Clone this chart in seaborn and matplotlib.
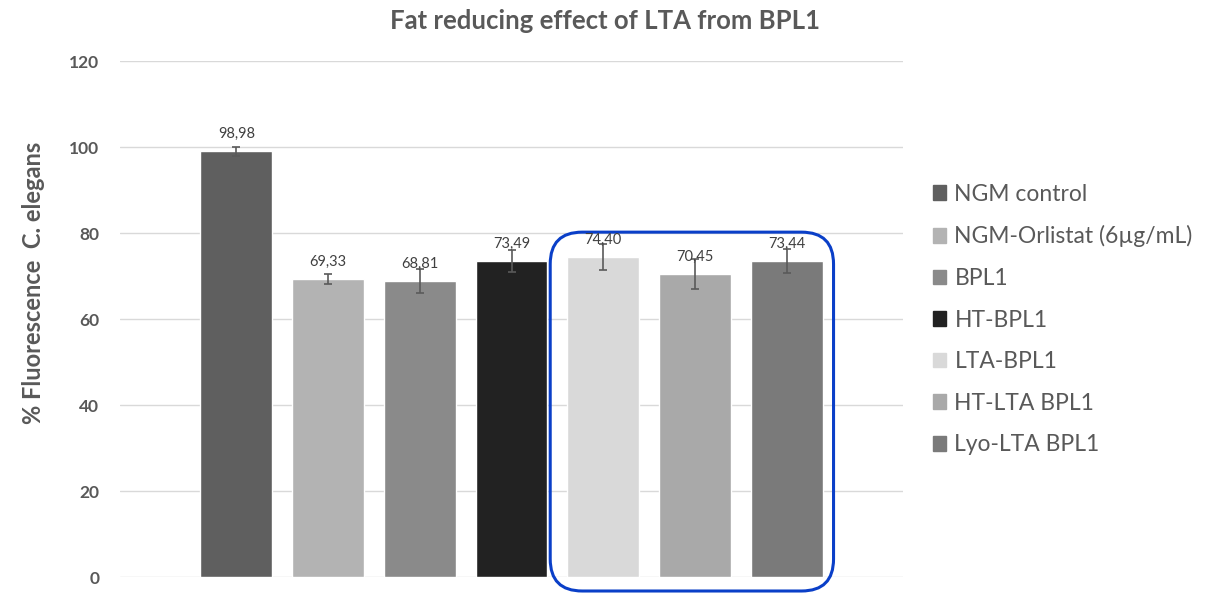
import pandas as pd
import numpy as np
import matplotlib
matplotlib.use('Agg')
import matplotlib.pyplot as plt
from matplotlib.patches import FancyBboxPatch
import seaborn as sns

# Data
groups = ['NGM control', 'NGM-Orlistat (6µg/mL)', 'BPL1', 'HT-BPL1',
          'LTA-BPL1', 'HT-LTA BPL1', 'Lyo-LTA BPL1']
values = [98.98, 69.33, 68.81, 73.49, 74.40, 70.45, 73.44]
errors = [1.1, 1.15, 2.85, 2.55, 3.05, 3.45, 2.8]
value_labels = ['98,98', '69,33', '68,81', '73,49', '74,40', '70,45', '73,44']
colors = ['#5f5f5f', '#b3b3b3', '#8a8a8a', '#222222', '#d9d9d9', '#a9a9a9', '#7a7a7a']
yticks = [0, 20, 40, 60, 80, 100, 120]

df = pd.DataFrame({'cat': ['all'] * len(groups), 'group': groups, 'value': values})

sns.set_theme(style='white')
plt.rcParams['font.family'] = ['Lato', 'DejaVu Sans']
text_color = '#595959'

fig = plt.figure(figsize=(12.09, 5.93), dpi=100)
ax = fig.add_axes([120 / 1209, 1 - 577 / 593, 783 / 1209, 516 / 593])

sns.barplot(data=df, x='cat', y='value', hue='group', hue_order=groups,
            palette=dict(zip(groups, colors)), width=0.8, gap=0.215,
            errorbar=None, ax=ax, legend=False, saturation=1)

ax.set_xlim(-0.488, 0.488)
ax.set_ylim(0, 120)
ax.set_yticks(yticks)
ax.set_yticklabels([str(t) for t in yticks], fontsize=12.5, fontweight='bold', color=text_color)
ax.set_xticks([])
ax.set_xlabel('')
ax.set_ylabel('')
ax.tick_params(axis='y', length=0, pad=15)
ax.yaxis.grid(True, color='#d9d9d9', linewidth=1)
ax.set_axisbelow(True)
for s in ax.spines.values():
    s.set_visible(False)

fig.text(34 / 1209, 1 - 283 / 593, '% Fluorescence  C. elegans', rotation=90,
         ha='center', va='center', fontsize=17, fontweight='bold', color=text_color)

bars = sorted(ax.patches, key=lambda p: p.get_x())
for bar, v, e, lab in zip(bars, values, errors, value_labels):
    cx = bar.get_x() + bar.get_width() / 2
    ax.errorbar(cx, v, yerr=e, fmt='none', ecolor='#5a5a5a', elinewidth=1.2,
                capsize=3, capthick=1.2)
    ax.annotate(lab, (cx, v), xytext=(0, 12.5), textcoords='offset points',
                ha='center', va='center', fontsize=10.5, color='#404040')

# highlight box around the LTA groups
x_per_px = 0.8 / 642
y_per_px = 120 / 516
left = bars[4].get_x() - 17 * x_per_px
right = bars[6].get_x() + bars[6].get_width() + 11 * x_per_px
bottom = -14 * y_per_px
top = 80.2
box = FancyBboxPatch((left, bottom), right - left, top - bottom,
                     boxstyle='round,pad=0,rounding_size=%f' % (32 * x_per_px),
                     mutation_aspect=y_per_px / x_per_px,
                     fill=False, edgecolor='#0a3fc8', linewidth=2.2, clip_on=False)
ax.add_patch(box)

fig.suptitle('Fat reducing effect of LTA from BPL1', x=0.5, y=1 - 21 / 593,
             va='center', fontsize=18.5, fontweight='bold', color=text_color)

handles = [plt.Rectangle((0, 0), 1, 1, color=c) for c in colors]
leg = ax.legend(handles, groups, loc='upper left', bbox_to_anchor=(912 / 1209, 1 - 163 / 593),
                bbox_transform=fig.transFigure, frameon=False, fontsize=16.5,
                handlelength=0.6, handleheight=0.6, handletextpad=0.35, labelspacing=0.9)
for t in leg.get_texts():
    t.set_color(text_color)

fig.savefig('out.png', dpi=100)
